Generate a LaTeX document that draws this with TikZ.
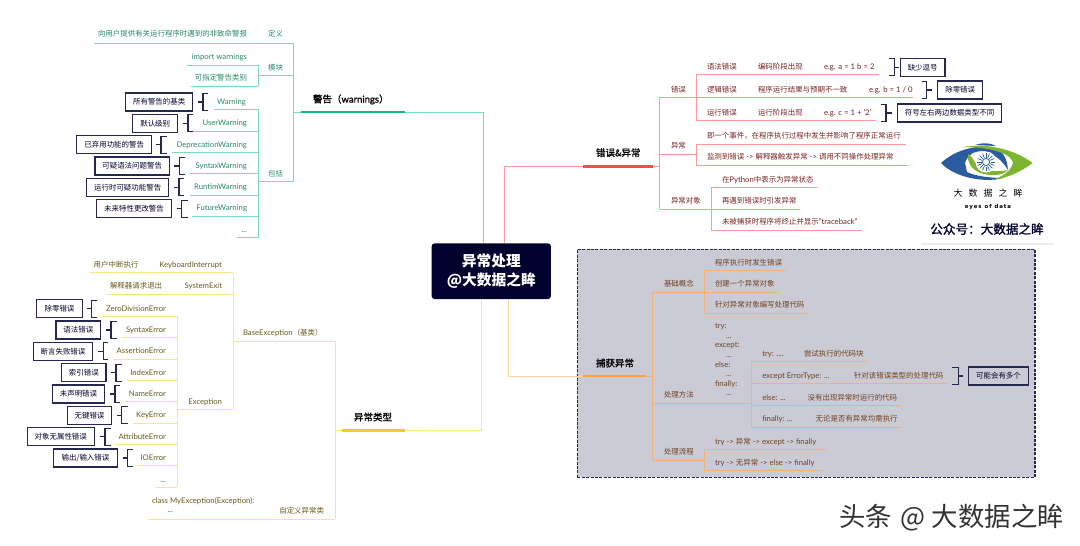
\documentclass[tikz,border=0pt]{standalone}
\usepackage{fontspec}
\setmainfont{Lato}[Scale=1.04]
\newfontfamily\cjk{Noto Sans CJK SC}
\newfontfamily\cjkt[FakeBold=1.2]{Noto Sans CJK SC}
\newfontfamily\latt[FakeBold=1.0]{Lato}
\newfontfamily\dvb{DejaVu Sans}
\newcommand\Z[1]{{\cjk #1}}
\newcommand\ZT[1]{{\cjkt #1}}
\definecolor{navy}{HTML}{26284F}
\definecolor{ink}{HTML}{02022E}
\definecolor{gl}{HTML}{7BDDB8}\definecolor{gb}{HTML}{12BE78}\definecolor{gt}{HTML}{2A8A62}
\definecolor{rl}{HTML}{FF9A96}\definecolor{rb}{HTML}{FF4B45}\definecolor{rt}{HTML}{782525}
\definecolor{yl}{HTML}{F9E58C}\definecolor{yb}{HTML}{F5CF1F}\definecolor{yt}{HTML}{665C1E}
\definecolor{ol}{HTML}{FFD3A4}\definecolor{oi}{HTML}{EFB27A}\definecolor{ob}{HTML}{FF9D45}\definecolor{ot}{HTML}{6E4224}
\definecolor{panel}{HTML}{CACBD4}
\definecolor{lblue}{HTML}{2B5C9E}\definecolor{lgreen}{HTML}{7DB52F}
\tikzset{
  x=1pt,y=-1pt,
  txt/.style={inner sep=0pt,outer sep=0pt,font=\fontsize{7.45}{9.6}\selectfont,text height=7pt,text depth=1.3pt},
  tg/.style={txt,text=gt}, tr/.style={txt,text=rt}, ty/.style={txt,text=yt}, to/.style={txt,text=ot},
  multi/.style={inner sep=0pt,outer sep=0pt,font=\fontsize{7.45}{9.6}\selectfont,align=left,anchor=north west},
  title/.style={inner sep=0pt,outer sep=0pt,font=\fontsize{9.5}{12}\selectfont,text=black,text height=8.8pt,text depth=1.6pt},
  lg/.style={draw=gl,line width=.9pt}, lr/.style={draw=rl,line width=.9pt},
  ly/.style={draw=yl,line width=.9pt}, lo/.style={draw=ol,line width=.9pt}, li/.style={draw=oi,line width=.9pt},
  bar/.style={line width=2.6pt},
  notebox/.style={draw=navy,line width=1.2pt,inner sep=0pt,text=ink,font=\fontsize{7.45}{9}\selectfont\cjk},
  brk/.style={draw=navy,line width=1.1pt},
}
% underline: name, style, x left, x right, y
\newcommand\ulne[5]{\coordinate (#1-l) at (#3,#5);\coordinate (#1-r) at (#4,#5);\draw[#2] (#1-l) -- (#1-r);}
% note box with bracket: name, x1, x2, y, text, xtick, xbar, xend
\newcommand\note[8]{%
  \node[notebox,minimum width={(#3-#2)*1pt},minimum height=18pt] (#1) at ({(#2+#3)/2},#4) {#5};
  \coordinate (#1-t) at (#6,#4);\coordinate (#1-m) at (#7,#4);
  \coordinate (#1-a) at (#8,#4-8.5);\coordinate (#1-b) at (#8,#4+8.5);
  \draw[brk] (#1-t) -- (#1-m);
  \draw[brk] (#1-a) -- (#1-a-|#1-m) -- (#1-b-|#1-m) -- (#1-b);}
\begin{document}
\begin{tikzpicture}
\useasboundingbox (0,0) rectangle (1080,546);
\fill[white] (0,0) rectangle (1080,546);
%---------- panel
\node[draw=navy,fill=panel,dash pattern=on 3pt off 1.4pt,line width=1.1pt,inner sep=0pt,minimum width=457.5pt,minimum height=228pt] (panel) at (806.2,363.3) {};
%---------- centre
\node[fill=ink,rounded corners=3pt,inner sep=0pt,minimum width=119.3pt,minimum height=55.7pt] (root) at (491.3,271.2) {};
\node[inner sep=0pt,text=white,font=\fontsize{14.7}{18}\selectfont\cjk\bfseries,align=center] (roota) at (491.3,261) {异常处理};
\node[inner sep=0pt,text=white,font=\fontsize{14.7}{18}\selectfont\cjk\bfseries,align=center] (rootb) at (491.3,281) {@大数据之眸};
%---------- trunks
\coordinate (gr) at (483.5,243.3);\coordinate (rr) at (504.3,243.3);
\coordinate (yr) at (481.7,299);\coordinate (or) at (508.3,299);
\coordinate (gbar-r) at (405,112);\coordinate (gbar-l) at (301,112);
\coordinate (rbar-l) at (583.3,166.3);\coordinate (rbar-r) at (652.7,166.3);
\coordinate (ybar-r) at (405,430.3);\coordinate (ybar-l) at (342.3,430.3);
\coordinate (obar-l) at (583.3,376);\coordinate (obar-r) at (646,376);
\draw[lg] (gr) |- (gbar-r);
\draw[lr] (rr) |- (rbar-l);
\draw[ly] (yr) |- (ybar-r);
\draw[lo] (or) |- (obar-l);
%---------- warnings branch
\coordinate (gj) at (293.5,112);
\draw[lg] (gbar-l) -- (gj);
\ulne{wdef}{lg}{94}{293.5}{43}
\ulne{wmod}{lg}{258}{293.5}{75.7}
\ulne{winc}{lg}{258}{293.5}{181.5}
\draw[lg] (wdef-r) -- (winc-r);
\ulne{wm1}{lg}{187}{258}{65}
\ulne{wm2}{lg}{191}{258}{86}
\draw[lg] (wm1-r) -- (wm2-r);
\ulne{w1}{lg}{214}{258}{109.3}
\ulne{w2}{lg}{189}{258}{131}
\ulne{w3}{lg}{172}{258}{152.6}
\ulne{w4}{lg}{190}{258}{173.7}
\ulne{w5}{lg}{190}{258}{195}
\ulne{w6}{lg}{192}{258}{216}
\ulne{w7}{lg}{237}{258}{237.6}
\draw[lg] (w1-r) -- (w7-r);
\draw[gb,bar] (gbar-l) -- (gbar-r);
\node[title,anchor=west] (wtitle) at (313,99) {\ZT{警告（}{\latt warnings}\ZT{）}};
\node[tg,anchor=east] (tdef1) at (247,34) {\Z{向用户提供有关运行程序时遇到的非致命警报}};
\node[tg,anchor=east] (tdef2) at (283,34) {\Z{定义}};
\node[tg,anchor=east] (tmod) at (283,67.5) {\Z{模块}};
\node[tg,anchor=east] (tm1) at (247,57) {import warnings};
\node[tg,anchor=east] (tm2) at (247,78) {\Z{可指定警告类别}};
\node[tg,anchor=east] (tinc) at (283,173.5) {\Z{包括}};
\node[tg,anchor=east] (tw1) at (246,102) {Warning};
\node[tg,anchor=east] (tw2) at (247,123) {UserWarning};
\node[tg,anchor=east] (tw3) at (247,144.5) {DeprecationWarning};
\node[tg,anchor=east] (tw4) at (247,165.5) {SyntaxWarning};
\node[tg,anchor=east] (tw5) at (247,187) {RuntimWarning};
\node[tg,anchor=east] (tw6) at (247,208) {FutureWarning};
\node[tg,anchor=east] (tw7) at (247,230) {...};
\note{nw1}{125.7}{192.7}{102}{所有警告的基类}{198}{203}{207.5}
\note{nw2}{132.7}{177.7}{123.2}{默认级别}{182.7}{188}{192.7}
\note{nw3}{76.7}{151.7}{144.7}{已弃用功能的警告}{156}{161}{166.7}
\note{nw4}{95}{169.3}{166}{可疑语法问题警告}{174}{179.3}{185}
\note{nw5}{86.7}{168.7}{187.3}{运行时可疑功能警告}{174}{179}{184}
\note{nw6}{96.7}{171.3}{208.7}{未来特性更改警告}{176.7}{181.7}{187.7}
%---------- exception types branch
\coordinate (yj) at (335.3,430.3);
\draw[ly] (yj) -- (ybar-l);
\ulne{ybase}{ly}{233.3}{335.3}{341}
\ulne{ycust}{ly}{148.3}{335.3}{519}
\draw[ly] (ybase-r) -- (ycust-r);
\ulne{yk}{ly}{90}{233.3}{272.7}
\ulne{ys}{ly}{106}{233.3}{294}
\ulne{ye}{ly}{177.3}{233.3}{409.3}
\draw[ly] (yk-r) -- (ye-r);
\ulne{e1}{ly}{102.3}{177.3}{316.3}
\ulne{e2}{ly}{121.7}{177.3}{337.7}
\ulne{e3}{ly}{113}{177.3}{359}
\ulne{e4}{ly}{126.7}{177.3}{380.3}
\ulne{e5}{ly}{125}{177.3}{401.7}
\ulne{e6}{ly}{132.7}{177.3}{423}
\ulne{e7}{ly}{115}{177.3}{444.3}
\ulne{e8}{ly}{137.7}{177.3}{465.7}
\ulne{e9}{ly}{156}{177.3}{487}
\draw[ly] (e1-r) -- (e9-r);
\draw[yb,bar] (ybar-l) -- (ybar-r);
\node[title,anchor=center] (ytitle) at (373,417) {\ZT{异常类型}};
\node[ty,anchor=west] (tbase) at (243,333) {BaseException\Z{（基类）}};
\node[ty,anchor=east] (tk) at (222,264.5) {KeyboardInterrupt};
\node[ty,anchor=west] (tk2) at (93.7,264.5) {\Z{用户中断执行}};
\node[ty,anchor=east] (ts) at (222,286) {SystemExit};
\node[ty,anchor=west] (ts2) at (110,286) {\Z{解释器请求退出}};
\node[ty,anchor=east] (te) at (222,401.5) {Exception};
\node[ty,anchor=east] (te1) at (166,308.5) {ZeroDivisionError};
\node[ty,anchor=east] (te2) at (166,329.7) {SyntaxError};
\node[ty,anchor=east] (te3) at (166,351) {AssertionError};
\node[ty,anchor=east] (te4) at (166,372.3) {IndexError};
\node[ty,anchor=east] (te5) at (166,393.7) {NameError};
\node[ty,anchor=east] (te6) at (166,415) {KeyError};
\node[ty,anchor=east] (te7) at (166,436.3) {AttributeError};
\node[ty,anchor=east] (te8) at (166,457.7) {IOError};
\node[ty,anchor=east] (te9) at (166,480) {...};
\node[multi,text=yt] (tcls) at (152,497) {class MyException(Exception):\\\hspace*{15.5pt}...};
\node[ty,anchor=east] (tcust) at (324,511) {\Z{自定义异常类}};
\note{ne1}{36.7}{82.3}{308.7}{除零错误}{86.7}{91.7}{97}
\note{ne2}{56}{100.7}{330}{语法错误}{106}{111}{116.7}
\note{ne3}{33.3}{92.7}{351.3}{断言失败错误}{98.3}{103.3}{108.3}
\note{ne4}{61.7}{106}{372.7}{索引错误}{111}{116}{122}
\note{ne5}{52.3}{104.7}{394}{未声明错误}{110}{115}{120}
\note{ne6}{67.3}{111.7}{415.3}{无键错误}{116.7}{121.7}{127.7}
\note{ne7}{27.3}{94.3}{436.7}{对象无属性错误}{100}{105}{110.7}
\note{ne8}{53.7}{117.3}{458}{输出/输入错误}{122.7}{127.7}{133}
%---------- errors branch
\coordinate (rj) at (659.7,166.3);
\draw[lr] (rbar-r) -- (rj);
\ulne{re}{lr}{659.7}{696}{97.3}
\ulne{rx}{lr}{659.7}{696}{154.3}
\ulne{ro}{lr}{659.7}{711}{209}
\draw[lr] (re-l) -- (ro-l);
\ulne{r1}{lr}{696}{879}{74.3}
\ulne{r2}{lr}{696}{913}{97.3}
\ulne{r3}{lr}{696}{875.7}{120.7}
\draw[lr] (r1-l) -- (r3-l);
\ulne{x1}{lr}{696}{906}{144.3}
\ulne{x2}{lr}{696}{906.7}{165.3}
\draw[lr] (x1-l) -- (x2-l);
\ulne{o1}{lr}{711}{816.7}{187.3}
\ulne{o2}{lr}{711}{800}{209}
\ulne{o3}{lr}{711}{862.3}{230.3}
\draw[lr] (o1-l) -- (o3-l);
\draw[rb,bar] (rbar-l) -- (rbar-r);
\node[title,anchor=west] (rtitle) at (596,152.7) {\ZT{错误\&异常}};
\node[tr,anchor=west] (tre) at (671,89.5) {\Z{错误}};
\node[tr,anchor=west] (trx) at (671,146) {\Z{异常}};
\node[tr,anchor=west] (tro) at (671,200.7) {\Z{异常对象}};
\node[tr,anchor=west] (tr1) at (707,66.7) {\Z{语法错误}};
\node[tr,anchor=west] (tr1b) at (758,66.7) {\Z{编码阶段出现}};
\node[tr,anchor=west] (tr1c) at (824,66.7) {e.g. a = 1 b = 2};
\node[tr,anchor=west] (tr2) at (707,90) {\Z{逻辑错误}};
\node[tr,anchor=west] (tr2b) at (758,90) {\Z{程序运行结果与预期不一致}};
\node[tr,anchor=west] (tr2c) at (869,90) {e.g. b = 1 / 0};
\node[tr,anchor=west] (tr3) at (707,112.7) {\Z{运行错误}};
\node[tr,anchor=west] (tr3b) at (758,112.7) {\Z{运行阶段出现}};
\node[tr,anchor=west] (tr3c) at (824,112.7) {e.g. c = 1 + '2'};
\node[tr,anchor=west] (tx1) at (707,135.7) {\Z{即一个事件，在程序执行过程中发生并影响了程序正常运行}};
\node[tr,anchor=west] (tx2) at (707,156.7) {\Z{监测到错误} -> \Z{解释器触发异常} -> \Z{调用不同操作处理异常}};
\node[tr,anchor=west] (to1) at (722,179.3) {\Z{在}Python\Z{中表示为异常状态}};
\node[tr,anchor=west] (to2) at (722,200.7) {\Z{再遇到错误时引发异常}};
\node[tr,anchor=west] (to3) at (722,222) {\Z{未被捕获时程序将终止并显示}"traceback"};
\note{nr1}{900.3}{945}{67.2}{缺少逗号}{899}{894.5}{889.3}
\note{nr2}{937.7}{982.7}{90}{除零错误}{931.7}{926.7}{921.7}
\note{nr3}{897.3}{1001.7}{113}{符号左右两边数据类型不同}{891.7}{886}{881}
%---------- catch branch
\coordinate (oj) at (652.7,376);
\draw[li] (obar-r) -- (oj);
\ulne{c1}{li}{652.7}{704}{292.3}
\ulne{c2}{li}{652.7}{751.7}{403.3}
\ulne{c3}{li}{652.7}{704}{460.3}
\draw[li] (c1-l) -- (c3-l);
\ulne{a1}{li}{704}{785.7}{270.3}
\ulne{a2}{li}{704}{778.3}{292.3}
\ulne{a3}{li}{704}{808}{313.7}
\draw[li] (a1-l) -- (a3-l);
\ulne{b1}{li}{751.7}{867}{361.3}
\ulne{b2}{li}{751.7}{946.7}{383.3}
\ulne{b3}{li}{751.7}{901}{405.3}
\ulne{b4}{li}{751.7}{901}{427.3}
\draw[li] (b1-l) -- (b4-l);
\ulne{f1}{li}{704}{825.7}{449}
\ulne{f2}{li}{704}{822.7}{470.7}
\draw[li] (f1-l) -- (f2-l);
\draw[ob,bar] (obar-l) -- (obar-r);
\node[title,anchor=west] (otitle) at (596,363) {\ZT{捕获异常}};
\node[to,anchor=west] (tc1) at (664,283.7) {\Z{基础概念}};
\node[to,anchor=west] (tc2) at (664,395) {\Z{处理方法}};
\node[to,anchor=west] (tc3) at (664,451.7) {\Z{处理流程}};
\node[to,anchor=west] (ta1) at (715,262.3) {\Z{程序执行时发生错误}};
\node[to,anchor=west] (ta2) at (715,283.7) {\Z{创建一个异常对象}};
\node[to,anchor=west] (ta3) at (715,305) {\Z{针对异常对象编写处理代码}};
\node[multi,text=ot] (tcode) at (715,323.5) {try:\\\hspace*{11pt}...\\except:\\\hspace*{11pt}...\\else:\\\hspace*{11pt}...\\finally:\\\hspace*{11pt}...};
\node[to,anchor=west] (tb1) at (762.3,353.7) {try: ....};
\node[to,anchor=west] (tb1b) at (804,353.7) {\Z{尝试执行的代码块}};
\node[to,anchor=west] (tb2) at (762.3,375.7) {except ErrorType: ...};
\node[to,anchor=west] (tb2b) at (854,375.7) {\Z{针对该错误类型的处理代码}};
\node[to,anchor=west] (tb3) at (762.3,397.7) {else: ...};
\node[to,anchor=west] (tb3b) at (807.7,397.7) {\Z{没有出现异常时运行的代码}};
\node[to,anchor=west] (tb4) at (762.3,419) {finally: ...};
\node[to,anchor=west] (tb4b) at (815.7,419) {\Z{无论是否有异常均需执行}};
\node[to,anchor=west] (tf1) at (715,441.7) {try -> \Z{异常} -> except -> finally};
\node[to,anchor=west] (tf2) at (715,462.7) {try -> \Z{无异常} -> else -> finally};
\note{nc}{968.7}{1028.3}{376}{可能会有多个}{963.3}{958.3}{952.3}
%---------- logo
\fill[lblue] (941,163) .. controls (955,150) and (975,145) .. (992,147) .. controls (1003,150) and (1007,158) .. (1008,170) .. controls (1002,160) and (995,155) .. (985,151) .. controls (972,151) and (968,155) .. (965,163) -- (967,172) .. controls (975,176) and (990,178) .. (1003,178) .. controls (985,183) and (955,178) .. (941,163) -- cycle;
\fill[lgreen] (962,147) .. controls (990,143) and (1015,150) .. (1032.7,163) .. controls (1022,171) and (1008,178) .. (993,180) .. controls (1003,176) and (1011,171) .. (1013,163) .. controls (1012,155) and (995,147) .. (962,147) -- cycle;
\fill[lgreen] (968,154) .. controls (966,168) and (980,176) .. (995,175) .. controls (1000,175) and (1005,173) .. (1008,170) .. controls (1000,172) and (985,172) .. (977,165) .. controls (973,160) and (972,156) .. (968,154) -- cycle;
\fill[lblue] (975,145) .. controls (982,142.5) and (990,142.5) .. (996,146) -- cycle;
\fill[white] (986,162) circle (10.5);
\foreach \a in {0,22.5,...,337.5}{\draw[lblue,line width=.7pt] (986,162)++(\a:4.5) -- ++(\a:4.5);}
\draw[lblue,line width=.8pt] (986,162) circle (3.6);
\node[inner sep=0pt,text=black,font=\fontsize{9}{11}\selectfont\cjk] (l1) at (988,192.7) {大\hspace{6pt}数\hspace{6pt}据\hspace{6pt}之\hspace{6pt}眸};
\node[inner sep=0pt,text=black,font=\fontsize{5.4}{6}\selectfont\dvb\bfseries] (l2) at (988,207) {e\,y\,e\,s\hspace{3pt}o\,f\hspace{3pt}d\,a\,t\,a};
\node[inner sep=0pt,text=ink,font=\fontsize{12.6}{15}\selectfont\cjkt] (l3) at (987,229) {公众号：大数据之眸};
\coordinate (l4a) at (921,244);\coordinate (l4b) at (1053,244);
\draw[draw=black!7,line width=2.4pt] (l4a) -- (l4b);
%---------- watermark
\node[inner sep=0pt,anchor=east,text=black!80,font=\fontsize{26.4}{30}\selectfont\cjk] (wm) at (1064,518) {头条\hspace{9pt}@\hspace{6pt}大数据之眸};
\end{tikzpicture}
\end{document}
